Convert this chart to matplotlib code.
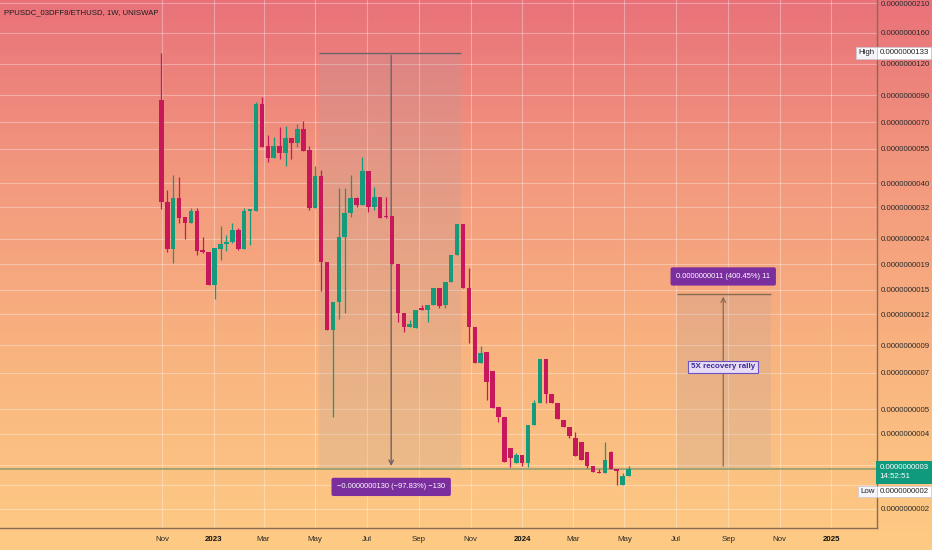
import matplotlib
matplotlib.use('Agg')
import matplotlib.pyplot as plt
import matplotlib.dates as mdates
import matplotlib.transforms as mtransforms
from matplotlib.colors import LinearSegmentedColormap
import numpy as np
import pandas as pd

plt.rcParams['font.family'] = ['Liberation Sans', 'DejaVu Sans']

# weekly candles, prices in units of 1e-9 ETH
first_week = '2022-10-31'
opens = [8.60, 3.37, 2.18, 3.49, 2.92, 2.78, 3.10, 2.16, 2.13, 1.57,
         2.18, 2.29, 2.33, 2.60, 2.18, 3.11, 3.11, 8.29, 5.63, 5.03,
         5.63, 5.30, 6.08, 5.78, 6.57, 5.43, 3.19, 4.27, 1.94, 1.04,
         1.34, 2.45, 3.03, 3.48, 3.28, 4.48, 3.22, 3.51, 2.96, 2.96,
         1.90, 1.21, 1.07, 1.06, 1.26, 1.25, 1.30, 1.52, 1.30, 1.61,
         2.07, 2.75, 1.53, 1.07, 0.763, 0.845, 0.713, 0.509, 0.467, 0.349,
         0.304, 0.328, 0.304, 0.433, 0.528, 0.792, 0.575, 0.528, 0.453, 0.426,
         0.383, 0.369, 0.338, 0.298, 0.282, 0.277, 0.337, 0.288, 0.249, 0.271]
closes = [3.37, 2.18, 3.49, 2.91, 2.78, 3.10, 2.15, 2.13, 1.57, 2.20,
          2.29, 2.34, 2.60, 2.18, 3.11, 3.13, 8.29, 5.60, 5.03, 5.63,
          5.30, 6.08, 5.78, 6.57, 5.38, 3.19, 4.27, 1.94, 1.04, 1.34,
          2.45, 3.03, 3.48, 3.28, 4.48, 3.22, 3.51, 2.91, 2.93, 1.90,
          1.21, 1.07, 1.10, 1.25, 1.25, 1.31, 1.52, 1.29, 1.61, 2.07,
          2.75, 1.53, 1.07, 0.763, 0.837, 0.645, 0.508, 0.467, 0.307, 0.318,
          0.328, 0.304, 0.433, 0.531, 0.792, 0.575, 0.528, 0.456, 0.426, 0.391,
          0.325, 0.314, 0.298, 0.280, 0.277, 0.314, 0.288, 0.284, 0.271, 0.289]
highs = [13.3, 3.76, 4.32, 4.24, 2.92, 3.18, 3.18, 2.43, 2.13, 2.20,
         2.71, 2.48, 2.77, 2.65, 3.18, 3.15, 8.45, 8.87, 6.24, 6.10,
         6.69, 6.77, 6.08, 6.88, 7.09, 5.63, 4.69, 4.52, 1.94, 1.34,
         3.82, 3.82, 4.32, 3.52, 5.08, 4.48, 3.88, 3.51, 3.53, 2.96,
         1.90, 1.21, 1.14, 1.25, 1.30, 1.31, 1.52, 1.52, 1.61, 2.07,
         2.75, 2.75, 1.83, 1.07, 0.895, 0.845, 0.713, 0.509, 0.467, 0.349,
         0.335, 0.328, 0.433, 0.545, 0.792, 0.792, 0.575, 0.528, 0.453, 0.426,
         0.407, 0.369, 0.338, 0.298, 0.288, 0.371, 0.341, 0.288, 0.277, 0.298]
lows = [3.15, 2.12, 1.92, 2.78, 2.39, 2.77, 2.07, 2.10, 1.57, 1.375,
        1.98, 2.14, 2.30, 2.16, 2.18, 2.27, 3.11, 5.60, 4.88, 5.03,
        4.99, 4.69, 4.99, 5.60, 5.38, 3.13, 3.19, 1.49, 1.04, 0.467,
        1.15, 1.21, 2.94, 3.21, 3.28, 3.08, 3.13, 2.91, 2.90, 1.90,
        1.12, 1.02, 1.07, 1.06, 1.25, 1.12, 1.30, 1.27, 1.27, 1.61,
        2.07, 1.53, 0.917, 0.763, 0.763, 0.545, 0.508, 0.446, 0.307, 0.295,
        0.304, 0.297, 0.295, 0.433, 0.528, 0.531, 0.528, 0.456, 0.426, 0.383,
        0.325, 0.314, 0.291, 0.280, 0.277, 0.277, 0.288, 0.248, 0.249, 0.271]

# right price scale (the two lowest-but-one labels sit under the price tags)
price_ticks = [21, 16, 12, 9, 7, 5.5, 4, 3.2, 2.4, 1.9, 1.5, 1.2, 0.9, 0.7,
               0.5, 0.4, 0.3, 0.25, 0.2]
hidden_ticks = [0.3, 0.25]
month_ticks = ['2022-11-01', '2023-01-01', '2023-03-01', '2023-05-01', '2023-07-01',
               '2023-09-01', '2023-11-01', '2024-01-01', '2024-03-01', '2024-05-01',
               '2024-07-01', '2024-09-01', '2024-11-01', '2025-01-01']
month_labels = ['Nov', '2023', 'Mar', 'May', 'Jul', 'Sep', 'Nov', '2024',
                'Mar', 'May', 'Jul', 'Sep', 'Nov', '2025']

# measuring tools drawn on the chart
drop_span = ('2023-05-06', '2023-10-21', '2023-07-30')
rally_span = ('2024-07-02', '2024-10-22', '2024-08-26')
rally_pct = 400.45
drop_text = '\u22120.0000000130 (\u221297.83%) \u2212130'
rally_text = '0.0000000011 (400.45%) 11'
note_text = '5X recovery rally'

UP = '#169a7c'
DOWN = '#c8185c'
FS = 5.7

fig = plt.figure(figsize=(9.32, 5.5), dpi=100)

# gradient background over the whole figure
bg = fig.add_axes([0, 0, 1, 1])
cmap = LinearSegmentedColormap.from_list('bg', ['#e9727a', '#f39a7e', '#f9b57f', '#fecb84'])
bg.imshow(np.linspace(0, 1, 256).reshape(-1, 1), aspect='auto', cmap=cmap,
          extent=[0, 1, 0, 1], origin='upper')
bg.axis('off')

ax = fig.add_axes([0, 22 / 550, 877 / 932, 528 / 550])
ax.set_facecolor('none')
ax.set_yscale('log')

dates = pd.date_range(first_week, periods=len(opens), freq='7D')
xs = mdates.date2num(dates)
o = np.array(opens)
c = np.array(closes)
h = np.array(highs)
l = np.array(lows)
colors = np.where(c >= o, UP, DOWN)

ax.vlines(xs, l, h, colors=colors, lw=0.9, zorder=3)
body_lo = np.minimum(o, c)
body_hi = np.maximum(np.maximum(o, c), body_lo * 1.012)
ax.bar(xs, body_hi - body_lo, bottom=body_lo, width=5.4, color=colors, lw=0, zorder=4)

ax.set_xlim(mdates.datestr2num('2022-04-23'), mdates.datestr2num('2025-02-24'))
ax.set_ylim(0.1677, 21.59)

# grid
for t in price_ticks:
    ax.axhline(t, color='white', alpha=0.33, lw=0.8, zorder=1)
for d in month_ticks:
    ax.axvline(mdates.datestr2num(d), color='white', alpha=0.33, lw=0.8, zorder=1)

last = closes[-1]
top = max(highs)
ax.axhline(last, color='#8c9a6e', lw=1.1, zorder=2)

# drop measurement
d0, d1, da = [mdates.datestr2num(s) for s in drop_span]
ax.fill_between([d0, d1], last, top, color='#a4a0a8', alpha=0.18, lw=0, zorder=2)
ax.hlines(top, d0, d1, color='#6e6466', lw=1, zorder=2)
ax.annotate('', xy=(da, last), xytext=(da, top),
            arrowprops=dict(arrowstyle='->', color='#6e6466', lw=1, mutation_scale=8), zorder=2)
ax.annotate(drop_text, xy=(da, last), xytext=(0, -13), textcoords='offset points',
            ha='center', va='center', color='white', fontsize=5.4, zorder=6,
            bbox=dict(boxstyle='round,pad=0.75,rounding_size=0.25', fc='#7b2e9e', ec='none'))

# rally measurement
r0, r1, ra = [mdates.datestr2num(s) for s in rally_span]
rally_top = last * (1 + rally_pct / 100)
ax.fill_between([r0, r1], last, rally_top, color='#a4a0a8', alpha=0.18, lw=0, zorder=2)
ax.hlines(rally_top, r0, r1, color='#8a6a55', lw=1, zorder=2)
ax.annotate('', xy=(ra, rally_top), xytext=(ra, last),
            arrowprops=dict(arrowstyle='->', color='#8a6a55', lw=0.9, mutation_scale=8), zorder=2)
ax.annotate(rally_text, xy=(ra, rally_top), xytext=(0, 12.5), textcoords='offset points',
            ha='center', va='center', color='white', fontsize=5.4, zorder=6,
            bbox=dict(boxstyle='round,pad=0.75,rounding_size=0.25', fc='#7b2e9e', ec='none'))
ax.text(ra, 0.305, note_text, transform=ax.get_xaxis_transform(), ha='center', va='center',
        color='#3b2a9c', fontsize=5.8, fontweight='bold', zorder=6,
        bbox=dict(boxstyle='square,pad=0.35', fc='#e8dcf6', ec='#6b55c4', lw=0.8))

# axes styling
for s in ['top', 'left']:
    ax.spines[s].set_visible(False)
for s in ['right', 'bottom']:
    ax.spines[s].set_color('#8b6b52')
    ax.spines[s].set_linewidth(1)

ax.yaxis.tick_right()
ax.set_yticks(price_ticks)
ax.set_yticklabels(['' if t in hidden_ticks else f'{t * 1e-9:.10f}' for t in price_ticks])
ax.yaxis.set_minor_locator(matplotlib.ticker.NullLocator())
ax.tick_params(axis='y', length=0, pad=2.5, labelsize=FS, labelcolor='#2b2b2b')

ax.set_xticks([mdates.datestr2num(d) for d in month_ticks])
ax.set_xticklabels(month_labels)
ax.tick_params(axis='x', length=0, pad=5.5, labelsize=FS, labelcolor='#2b2b2b')
for lab in ax.get_xticklabels():
    if lab.get_text().isdigit():
        lab.set_fontweight('bold')
        lab.set_color('#111111')

ytr = ax.get_yaxis_transform()
# High / Low markers on the price scale
ax.text(1.003, top, f'{top * 1e-9:.10f}', transform=ytr, ha='left', va='center',
        fontsize=FS, color='#222222', zorder=7, clip_on=False,
        bbox=dict(boxstyle='square,pad=0.3', fc='white', ec='#c8c8d8', lw=0.5))
ax.text(0.9975, top, 'High', transform=ytr, ha='right', va='center',
        fontsize=FS, color='#222222', zorder=7, clip_on=False,
        bbox=dict(boxstyle='square,pad=0.3', fc='#f4f4fa', ec='#c8c8d8', lw=0.5))
low = min(lows)
low_tr = ytr + mtransforms.ScaledTranslation(0, -6 / 100, fig.dpi_scale_trans)
ax.text(1.003, low, f'{low * 1e-9:.10f}', transform=low_tr, ha='left', va='center',
        fontsize=FS, color='#222222', zorder=7, clip_on=False,
        bbox=dict(boxstyle='square,pad=0.3', fc='white', ec='#c8c8d8', lw=0.5))
ax.text(0.9975, low, 'Low', transform=low_tr, ha='right', va='center',
        fontsize=FS, color='#222222', zorder=7, clip_on=False,
        bbox=dict(boxstyle='square,pad=0.3', fc='#f4f4fa', ec='#c8c8d8', lw=0.5))

# last price tag
tag_tr = ytr + mtransforms.ScaledTranslation(0, 5 / 100, fig.dpi_scale_trans)
ax.text(1.003, last, f'{last * 1e-9:.10f}\n14:52:51', transform=tag_tr, ha='left', va='top',
        fontsize=FS, color='white', linespacing=1.5, zorder=7, clip_on=False,
        bbox=dict(boxstyle='square,pad=0.4', fc='#0f9a7d', ec='none'))

ax.text(4 / 877, 1 - 13 / 528, 'PPUSDC_03DFF8/ETHUSD, 1W, UNISWAP', transform=ax.transAxes,
        ha='left', va='center', fontsize=5.6, color='#1c1c1c')

fig.savefig('out.png', dpi=100)
